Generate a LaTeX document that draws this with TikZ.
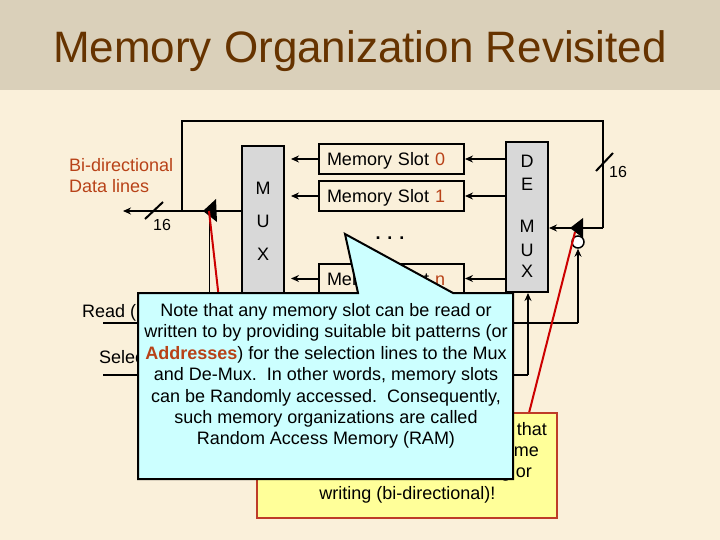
\documentclass[tikz,border=0pt]{standalone}
\usepackage{fontspec}
\setmainfont{Liberation Sans}
\usetikzlibrary{arrows.meta}
\definecolor{bodybg}{RGB}{250,240,218}
\definecolor{titlebg}{RGB}{218,208,186}
\definecolor{titlecol}{RGB}{102,51,0}
\definecolor{accent}{RGB}{184,66,24}
\definecolor{muxgray}{RGB}{216,216,216}
\definecolor{cyanfill}{RGB}{204,255,255}
\definecolor{yelfill}{RGB}{255,255,153}
\definecolor{yelbord}{RGB}{190,60,40}
\definecolor{redline}{RGB}{204,0,0}
\newcommand{\fs}{\fontsize{18}{21.3}\selectfont}
\begin{document}
\begin{tikzpicture}[x=1pt,y=-1pt,
  blk/.style={draw=black, line width=2pt, fill=muxgray, minimum width=42pt, inner sep=0pt},
  slotbox/.style={draw=black, line width=2pt, text width=129pt, align=left, inner xsep=8pt, inner ysep=0pt, minimum height=30pt, text height=13pt, text depth=0pt, font=\fs},
  wire/.style={line width=2pt, draw=black},
  arr/.style={wire, -{Stealth[length=8pt,width=7pt]}},
  txt/.style={font=\fs, inner sep=0pt},
  numtxt/.style={font=\fontsize{16}{18}\selectfont, inner sep=0pt},
  rline/.style={line width=2pt, draw=redline},
]
\useasboundingbox (0,0) rectangle (720,540);
\fill[bodybg] (0,0) rectangle (720,540);
\fill[titlebg] (0,0) rectangle (720,90);
\node[anchor=base, inner sep=0pt, font=\fontsize{44}{50}\selectfont, text=titlecol] (title) at (360,63) {Memory Organization Revisited};

% left labels
\node[txt, anchor=base west, text=accent] (bid1) at (69,172) {Bi-directional};
\node[txt, anchor=base west, text=accent] (bid2) at (69,193) {Data lines};
\node[numtxt, anchor=base west] (n16l) at (153,230) {16};
\node[numtxt, anchor=base west] (n16r) at (609,178) {16};
\node[txt, anchor=base west] (readlbl) at (82,317) {Read (R)};
\node[txt, anchor=base west] (sellbl) at (99,363) {Select};

% MUX / DEMUX
\node[blk, minimum height=147pt] (mux) at (263,219.5) {};
\node[blk, minimum height=150pt] (demux) at (527,217) {};
\node[txt, anchor=base] (m1) at (263,195) {M};
\node[txt, anchor=base] (m2) at (263,228) {U};
\node[txt, anchor=base] (m3) at (263,260) {X};
\node[txt, anchor=base] (d1) at (527,168) {D};
\node[txt, anchor=base] (d2) at (527,191) {E};
\node[txt, anchor=base] (d3) at (527,233) {M};
\node[txt, anchor=base] (d4) at (527,256) {U};
\node[txt, anchor=base] (d5) at (527,277) {X};

% memory slots
\node[slotbox] (s0) at (391.5,159) {Memory Slot \textcolor{accent}{0}};
\node[slotbox] (s1) at (391.5,196) {Memory Slot \textcolor{accent}{1}};
\node[slotbox] (sn) at (391.5,278.5) {Memory Slot \textcolor{accent}{n}};
\node[txt, anchor=base] (dots) at (390,240) {\textbf{.}\hspace{7pt}\textbf{.}\hspace{7pt}\textbf{.}};

\foreach \s in {s0,s1,sn}{
  \draw[arr, shorten >=6pt] (\s.west) -- (\s.west -| mux.east);
  \draw[arr] (demux.west |- \s) -- (\s.east);
}

% data loop
\coordinate (dataend) at (123,211);
\coordinate (ltop) at (182,121);
\coordinate (rtop) at (603,121);
\coordinate (rmid) at (603,228);
\draw[arr] (mux.west |- dataend) -- (dataend);
\draw[wire] (ltop |- dataend) -- (ltop) -- (rtop) -- (rmid);
\draw[arr] (rmid) -- (rmid -| demux.east);
\draw[wire] (145,219) -- (163,202);
\draw[wire] (596,171) -- (613,153);

% control lines
\coordinate (readL) at (103,323);
\coordinate (readR) at (578,323);
\coordinate (selL) at (103,375);
\coordinate (selR) at (528,375);
\coordinate (lbuf) at (209,216);
\draw[wire] (readL) -- (readR);
\draw[wire] (selL) -- (selR);
\draw[arr] (selR) -- (selR |- demux.south);
\draw[line width=1pt] (lbuf) -- (lbuf |- readL);

% tri-state buffers
\fill[black] (203,211) -- (216,199) -- (217,222) -- cycle;
\fill[black] (570,228) -- (583,218) -- (583,238) -- cycle;
\node[circle, draw=black, fill=white, line width=1.5pt, minimum size=12pt, inner sep=0pt] (bub) at (578,242) {};
\draw[arr] (readR) -- (bub.south);

% red pointer lines
\draw[rline] (209,211) -- (235,440);
\draw[rline] (575,232) -- (529,413);

% yellow callout
\node[draw=yelbord, fill=yelfill, line width=2pt, minimum width=300pt, minimum height=105pt, inner sep=0pt] (ybox) at (407,465.5) {};
\node[txt, anchor=base east] (y1) at (547,435) {note that};
\node[txt, anchor=base east] (y2) at (539,456) {the same};
\node[txt, anchor=base east] (y3) at (532,477) {for reading or};
\node[txt, anchor=base] (y4) at (407.5,499) {writing (bi-directional)!};

% cyan callout
\draw[fill=cyanfill, line width=2pt] (138,293) -- (358,293) -- (345,234) -- (453,293) -- (513,293) -- (513,479) -- (138,479) -- cycle;
\node[txt, anchor=base] (c1) at (326,316) {Note that any memory slot can be read or};
\node[txt, anchor=base] (c2) at (326,337.5) {written to by providing suitable bit patterns (or};
\node[txt, anchor=base] (c3) at (326,359) {\textbf{\textcolor{accent}{Addresses}}) for the selection lines to the Mux};
\node[txt, anchor=base] (c4) at (326,380.5) {and De-Mux.\ \ In other words, memory slots};
\node[txt, anchor=base] (c5) at (326,402) {can be Randomly accessed.\ \ Consequently,};
\node[txt, anchor=base] (c6) at (326,423) {such memory organizations are called};
\node[txt, anchor=base] (c7) at (326,444) {Random Access Memory (RAM)};
\end{tikzpicture}
\end{document}
